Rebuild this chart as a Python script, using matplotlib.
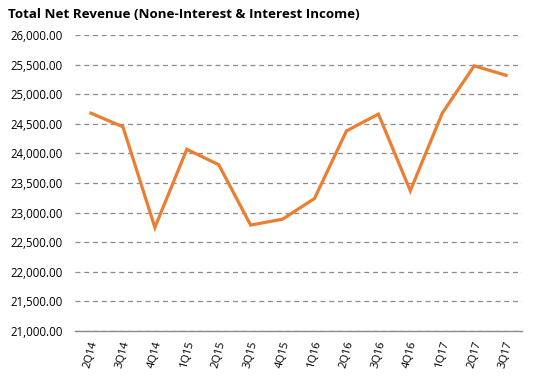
import matplotlib.pyplot as plt
from matplotlib.ticker import FuncFormatter

# quarterly total net revenue
quarters = ["2Q14", "3Q14", "4Q14", "1Q15", "2Q15", "3Q15", "4Q15",
            "1Q16", "2Q16", "3Q16", "4Q16", "1Q17", "2Q17", "3Q17"]
revenue = [24680, 24450, 22750, 24070, 23810, 22790, 22890,
           23240, 24380, 24665, 23370, 24680, 25480, 25320]

plt.rcParams['font.family'] = ['Open Sans', 'DejaVu Sans']

fig = plt.figure(figsize=(5.36, 3.81), dpi=100)
ax = fig.add_axes([0.14, 0.131, 0.834, 0.777])

x = range(len(quarters))
ax.plot(x, revenue, color="#ED7D31", lw=2.3, solid_joinstyle="miter")

ax.set_ylim(21000, 26000)
ax.set_yticks(range(21000, 26001, 500))
ax.yaxis.set_major_formatter(FuncFormatter(lambda v, p: f"{v:,.2f}"))
ax.set_xlim(-0.5, len(quarters) - 0.5)
ax.set_xticks(list(x))
ax.set_xticklabels(quarters, rotation=75, fontsize=8)
ax.tick_params(axis="y", labelsize=8.3, length=0, pad=9)
ax.tick_params(axis="x", length=0, pad=6)

ax.grid(axis="y", linestyle=(0, (4, 3)), color="#8c8c8c", lw=0.9)
ax.set_axisbelow(True)
for s in ["top", "right", "left"]:
    ax.spines[s].set_visible(False)
ax.spines["bottom"].set_color("#8c8c8c")
ax.spines["bottom"].set_linewidth(1.0)

fig.text(0.014, 0.963, "Total Net Revenue (None-Interest & Interest Income)",
         fontsize=9.6, fontweight="bold", va="center", ha="left")

fig.savefig("out.png", dpi=100)
